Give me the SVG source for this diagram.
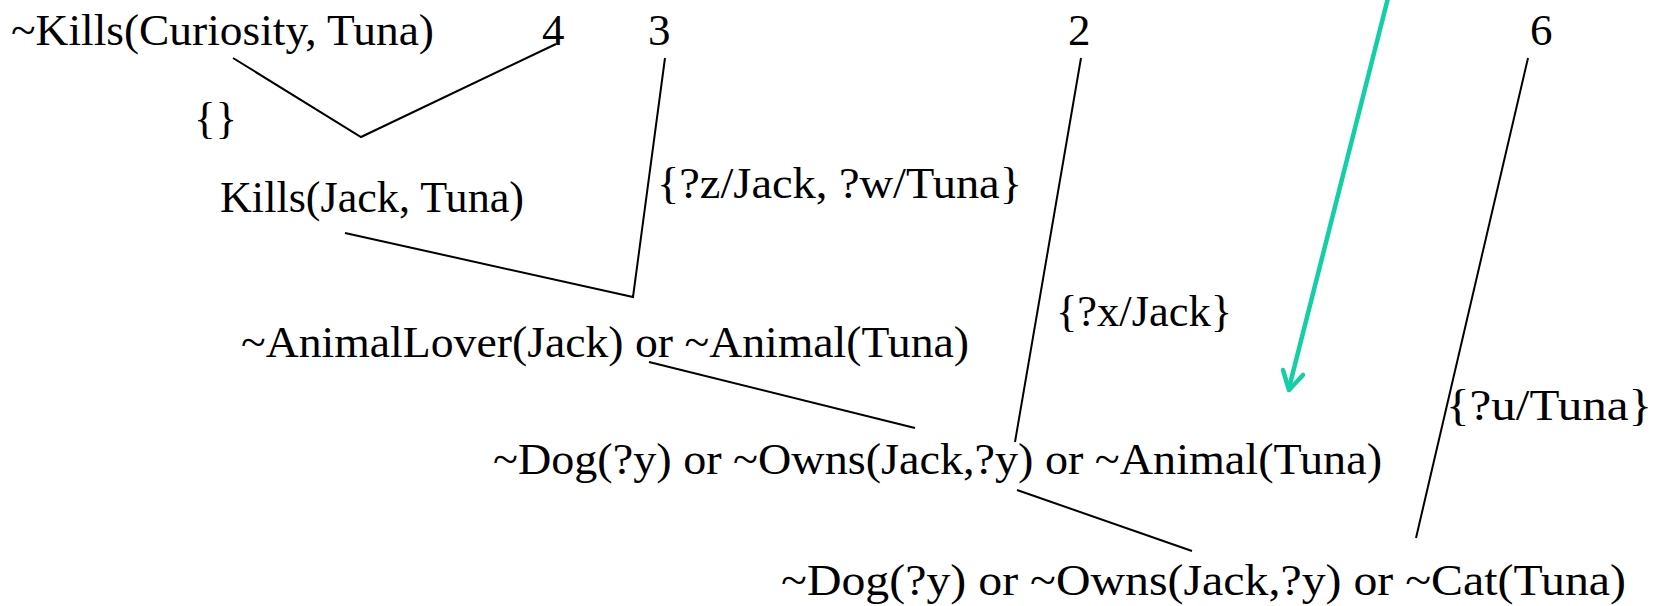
<svg xmlns="http://www.w3.org/2000/svg" width="1661" height="606" viewBox="0 0 1661 606">
<style>
  text { font-family: "Liberation Serif", "Times New Roman", serif; font-size: 45px; fill: #000; }
  .conn { stroke: #000; stroke-width: 2; fill: none; }
  .hl { stroke: #12CFA5; stroke-width: 4.5; fill: none; stroke-linecap: round; stroke-linejoin: round; }
</style>
<rect width="1661" height="606" fill="#fff"/>
<g id="connectors">
  <polyline class="conn" points="233,58 361,137 556,44"/>
  <polyline class="conn" points="665,58 633,297 345,233"/>
  <line class="conn" x1="1081" y1="58" x2="1015" y2="442"/>
  <line class="conn" x1="649" y1="362" x2="915" y2="428"/>
  <line class="conn" x1="1017" y1="490" x2="1192" y2="551"/>
  <line class="conn" x1="1528" y1="58" x2="1416" y2="538"/>
  <line class="hl" x1="1388" y1="-2" x2="1289" y2="388"/>
  <polyline class="hl" points="1283,370 1289,390 1303,375"/>
</g>
<g id="n-kills-curiosity"><text x="11" y="45" textLength="423" lengthAdjust="spacingAndGlyphs">~Kills(Curiosity, Tuna)</text></g>
<g id="n-4"><text x="542" y="45">4</text></g>
<g id="n-3"><text x="648" y="45">3</text></g>
<g id="n-2"><text x="1068" y="45">2</text></g>
<g id="n-6"><text x="1530" y="45">6</text></g>
<g id="l-empty"><text x="194" y="133">{}</text></g>
<g id="n-kills-jack"><text x="220" y="212" textLength="304" lengthAdjust="spacingAndGlyphs">Kills(Jack, Tuna)</text></g>
<g id="l-zw"><text x="657" y="198" textLength="365" lengthAdjust="spacingAndGlyphs">{?z/Jack, ?w/Tuna}</text></g>
<g id="n-animallover"><text x="241" y="357" textLength="728" lengthAdjust="spacingAndGlyphs">~AnimalLover(Jack) or ~Animal(Tuna)</text></g>
<g id="l-x"><text x="1056" y="326" textLength="176" lengthAdjust="spacingAndGlyphs">{?x/Jack}</text></g>
<g id="n-dog-animal"><text x="493" y="474" textLength="889" lengthAdjust="spacingAndGlyphs">~Dog(?y) or ~Owns(Jack,?y) or ~Animal(Tuna)</text></g>
<g id="l-u"><text x="1446" y="420" textLength="206" lengthAdjust="spacingAndGlyphs">{?u/Tuna}</text></g>
<g id="n-dog-cat"><text x="781" y="595" textLength="845" lengthAdjust="spacingAndGlyphs">~Dog(?y) or ~Owns(Jack,?y) or ~Cat(Tuna)</text></g>
</svg>
